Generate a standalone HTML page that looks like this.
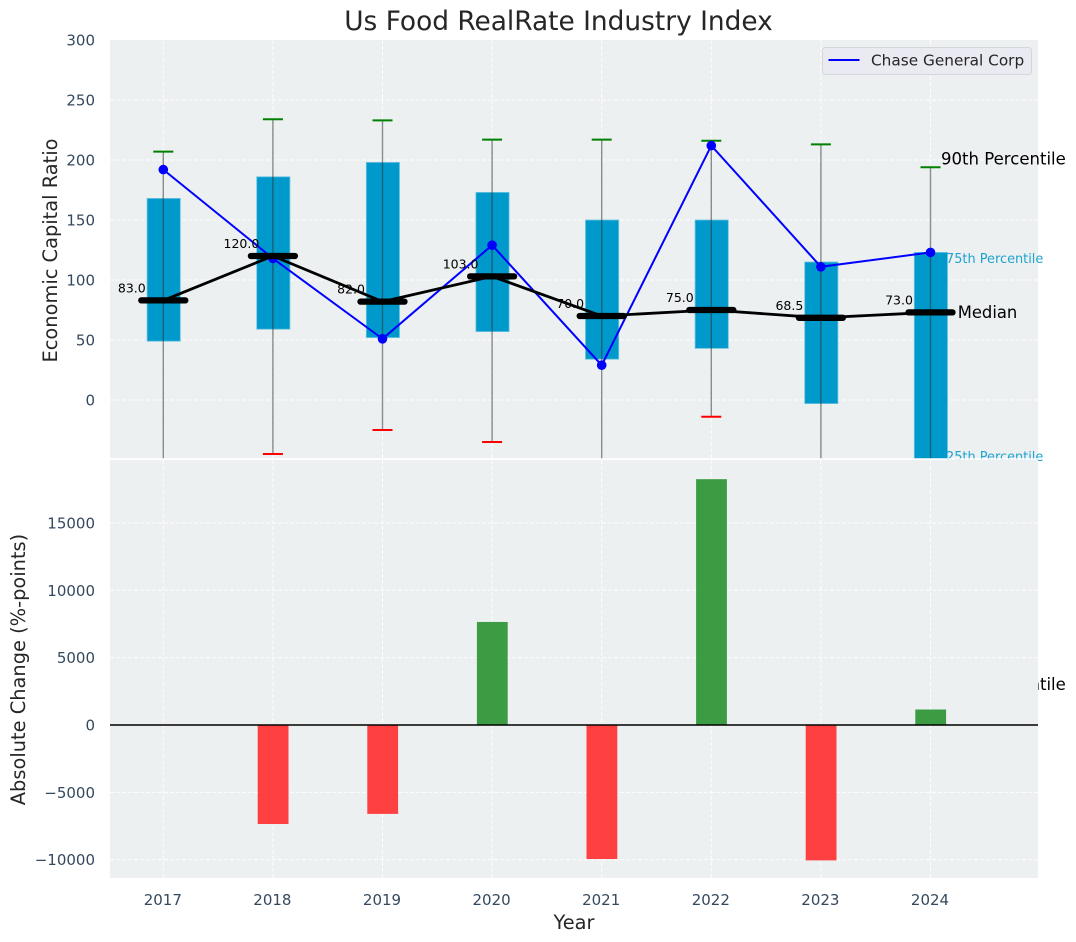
<!DOCTYPE html>
<html lang="en">
<head>
<meta charset="utf-8">
<title>Us Food RealRate Industry Index</title>
<style>
html,body{margin:0;padding:0;background:#fff;width:1076px;height:942px;overflow:hidden}
svg{display:block;font-family:"DejaVu Sans","Liberation Sans",sans-serif}
</style>
</head>
<body>
<svg id="chart" xmlns="http://www.w3.org/2000/svg" width="1076" height="942" viewBox="0 0 1076 942">
  <defs>
    <clipPath id="top-clip"><rect x="110" y="40" width="928" height="419"/></clipPath>
    <clipPath id="bottom-clip"><rect x="110" y="460" width="928" height="418"/></clipPath>
  </defs>
  <rect x="110" y="40" width="928" height="419" fill="#ecf0f1"/>
  <g id="top-grid"></g>
  <g id="top-marks" clip-path="url(#top-clip)"></g>
  <g id="top-labels"></g>
  <rect x="110" y="460" width="928" height="418" fill="#ecf0f1"/>
  <line x1="110" x2="1038" y1="459" y2="459" stroke="#ffffff" stroke-width="1.6"/>
  <g id="bottom-grid"></g>
  <g id="bottom-marks" clip-path="url(#bottom-clip)"></g>
  <g id="ticks"></g>

  <text x="558.5" y="30" text-anchor="middle" font-size="26.4px" fill="#262626">Us Food RealRate Industry Index</text>
  <text transform="translate(57,250.5) rotate(-90)" text-anchor="middle" font-size="19.4px" fill="#262626">Economic Capital Ratio</text>
  <text transform="translate(25,669.5) rotate(-90)" text-anchor="middle" font-size="19.4px" fill="#262626">Absolute Change (%-points)</text>
  <text x="574" y="929" text-anchor="middle" font-size="19.4px" fill="#262626">Year</text>

  <g>
    <rect x="822.5" y="47.5" width="209" height="27" rx="3" fill="#eaeaf2" stroke="#d5d5da" stroke-width="1"/>
    <line x1="828.5" x2="859.5" y1="60" y2="60" stroke="#0000ff" stroke-width="2"/>
    <text x="871" y="65.5" font-size="15.3px" fill="#262626">Chase General Corp</text>
  </g>
</svg>
<script>
const years = [2017, 2018, 2019, 2020, 2021, 2022, 2023, 2024];
const whiskerHigh = [207, 234, 233, 217, 217, 216, 213, 194];
const whiskerLow = [-80, -45, -25, -35, -70, -14, -70, -237];
const boxUpper = [168, 186, 198, 173, 150, 150, 115, 123];
const boxLower = [49, 59, 52, 57, 34, 43, -3, -60];
const medians = [83, 120, 82, 103, 70, 75, 68.5, 73];
const chaseGeneralCorp = [192, 118, 51, 129, 29, 212, 111, 123];
const absoluteChange = [0, -7350, -6600, 7650, -9950, 18250, -10050, 1150];
const topTicks = [0, 50, 100, 150, 200, 250, 300];
const bottomTicks = [-10000, -5000, 0, 5000, 10000, 15000];
const medianLabels = ['83.0', '120.0', '82.0', '103.0', '70.0', '75.0', '68.5', '73.0'];

const NS = 'http://www.w3.org/2000/svg';
function xScale(year) { return 163.3 + (year - 2017) * 109.6; }
function yTop(value) { return 400 - value * 1.2; }
function yBottom(value) { return 725 - value * 0.01347; }
function make(parent, tag, props, content) {
  const el = document.createElementNS(NS, tag);
  for (const key in props) el.setAttribute(key, props[key]);
  if (content !== undefined) el.textContent = content;
  parent.appendChild(el);
  return el;
}
const topGrid = document.getElementById('top-grid');
const topMarks = document.getElementById('top-marks');
const topLabels = document.getElementById('top-labels');
const bottomGrid = document.getElementById('bottom-grid');
const bottomMarks = document.getElementById('bottom-marks');
const tickGroup = document.getElementById('ticks');
const gridStyle = { stroke: '#ffffff', 'stroke-width': 1, 'stroke-dasharray': '4 2', opacity: 0.9 };

years.forEach(function (year) {
  const x = xScale(year);
  const a = make(topGrid, 'line', Object.assign({ x1: x, x2: x, y1: 40, y2: 459 }, gridStyle));
  
  
  const b = make(bottomGrid, 'line', Object.assign({ x1: x, x2: x, y1: 460, y2: 878 }, gridStyle));
  
  
  const t = make(tickGroup, 'text', { x: x - 0.5, y: 905, 'text-anchor': 'middle', 'font-size': '15px', fill: '#34495e' }, String(year));
  
  
});
topTicks.forEach(function (value) {
  const y = yTop(value);
  if (value < 300) {
    const g = make(topGrid, 'line', Object.assign({ x1: 110, x2: 1038, y1: y, y2: y }, gridStyle));
    
    
  }
  const t = make(tickGroup, 'text', { x: 95, y: y + 5.5, 'text-anchor': 'end', 'font-size': '15px', fill: '#34495e' }, String(value));
  
  
});
bottomTicks.forEach(function (value) {
  const y = yBottom(value);
  const g = make(bottomGrid, 'line', Object.assign({ x1: 110, x2: 1038, y1: y, y2: y }, gridStyle));
  
  
  const t = make(tickGroup, 'text', { x: 95, y: y + 5.5, 'text-anchor': 'end', 'font-size': '15px', fill: '#34495e' }, String(value).replace('-', '\u2212'));
  
  
});

years.forEach(function (year, i) {
  const x = xScale(year);
  const top = yTop(boxUpper[i]);
  const box = make(topMarks, 'rect', { x: x - 16.2, y: top, width: 33.2, height: yTop(boxLower[i]) - top, fill: '#0099cc', stroke: '#6cc4e0', 'stroke-width': 0.8 });
  
  
});
years.forEach(function (year, i) {
  const x = xScale(year);
  const w = make(topMarks, 'line', { x1: x, x2: x, y1: yTop(whiskerHigh[i]), y2: yTop(whiskerLow[i]), stroke: '#333333', 'stroke-opacity': 0.55, 'stroke-width': 1.4 });
  
  
  const capHigh = make(topMarks, 'line', { x1: x - 10, x2: x + 10, y1: yTop(whiskerHigh[i]), y2: yTop(whiskerHigh[i]), stroke: '#008000', 'stroke-width': 2 });
  
  
  const capLow = make(topMarks, 'line', { x1: x - 10, x2: x + 10, y1: yTop(whiskerLow[i]), y2: yTop(whiskerLow[i]), stroke: '#ff0000', 'stroke-width': 2 });
  
  
});

const bluePoints = years.map(function (year, i) { return xScale(year) + ',' + yTop(chaseGeneralCorp[i]); }).join(' ');
const blueLine = make(topMarks, 'polyline', { points: bluePoints, fill: 'none', stroke: '#0000ff', 'stroke-width': 2 });


years.forEach(function (year, i) {
  const p = make(topMarks, 'circle', { cx: xScale(year), cy: yTop(chaseGeneralCorp[i]), r: 4.8, fill: '#0000ff' });
  
  
});

const medianPoints = years.map(function (year, i) { return xScale(year) + ',' + yTop(medians[i]); }).join(' ');
const medianLine = make(topMarks, 'polyline', { points: medianPoints, fill: 'none', stroke: '#000000', 'stroke-width': 2.8 });


years.forEach(function (year, i) {
  const x = xScale(year);
  const y = yTop(medians[i]);
  const m = make(topMarks, 'line', { x1: x - 22, x2: x + 22, y1: y, y2: y, stroke: '#000000', 'stroke-width': 6.3, 'stroke-linecap': 'round' });
  
  
  const t = make(topLabels, 'text', { x: x - 31.5, y: y - 8, 'text-anchor': 'middle', 'font-size': '12.5px', fill: '#000000' }, medianLabels[i]);
  
  
});

const last = years.length - 1;
const lastX = xScale(years[last]);
const label90 = make(topLabels, 'text', { x: lastX + 10.5, y: yTop(whiskerHigh[last]) - 2.5, 'font-size': '16.55px', fill: '#000000' }, '90th Percentile');


const label75 = make(topLabels, 'text', { x: lastX + 15.5, y: yTop(boxUpper[last]) + 10.5, 'font-size': '12.9px', fill: '#1fa3cf' }, '75th Percentile');


const labelMedian = make(topLabels, 'text', { x: lastX + 27.2, y: yTop(medians[last]) + 5.5, 'font-size': '16.4px', fill: '#000000' }, 'Median');


const label25 = make(topLabels, 'text', { x: lastX + 15.5, y: yTop(boxLower[last]) - 11, 'font-size': '12.9px', fill: '#1fa3cf' }, '25th Percentile');


const label10 = make(topLabels, 'text', { x: lastX + 10.5, y: yTop(whiskerLow[last]) + 5.5, 'font-size': '16.55px', fill: '#000000' }, '10th Percentile');



years.forEach(function (year, i) {
  const value = absoluteChange[i];
  if (value === 0) return;
  const y0 = yBottom(Math.max(value, 0));
  const y1 = yBottom(Math.min(value, 0));
  const bar = make(bottomMarks, 'rect', { x: xScale(year) - 15.2, y: y0, width: 30.8, height: y1 - y0, fill: value > 0 ? '#2e9636' : '#ff3333', 'fill-opacity': 0.93 });
  
  
});
const zeroLine = make(bottomMarks, 'line', { x1: 110, x2: 1038, y1: yBottom(0), y2: yBottom(0), stroke: '#000000', 'stroke-width': 1.5 });


</script>
</body>
</html>
